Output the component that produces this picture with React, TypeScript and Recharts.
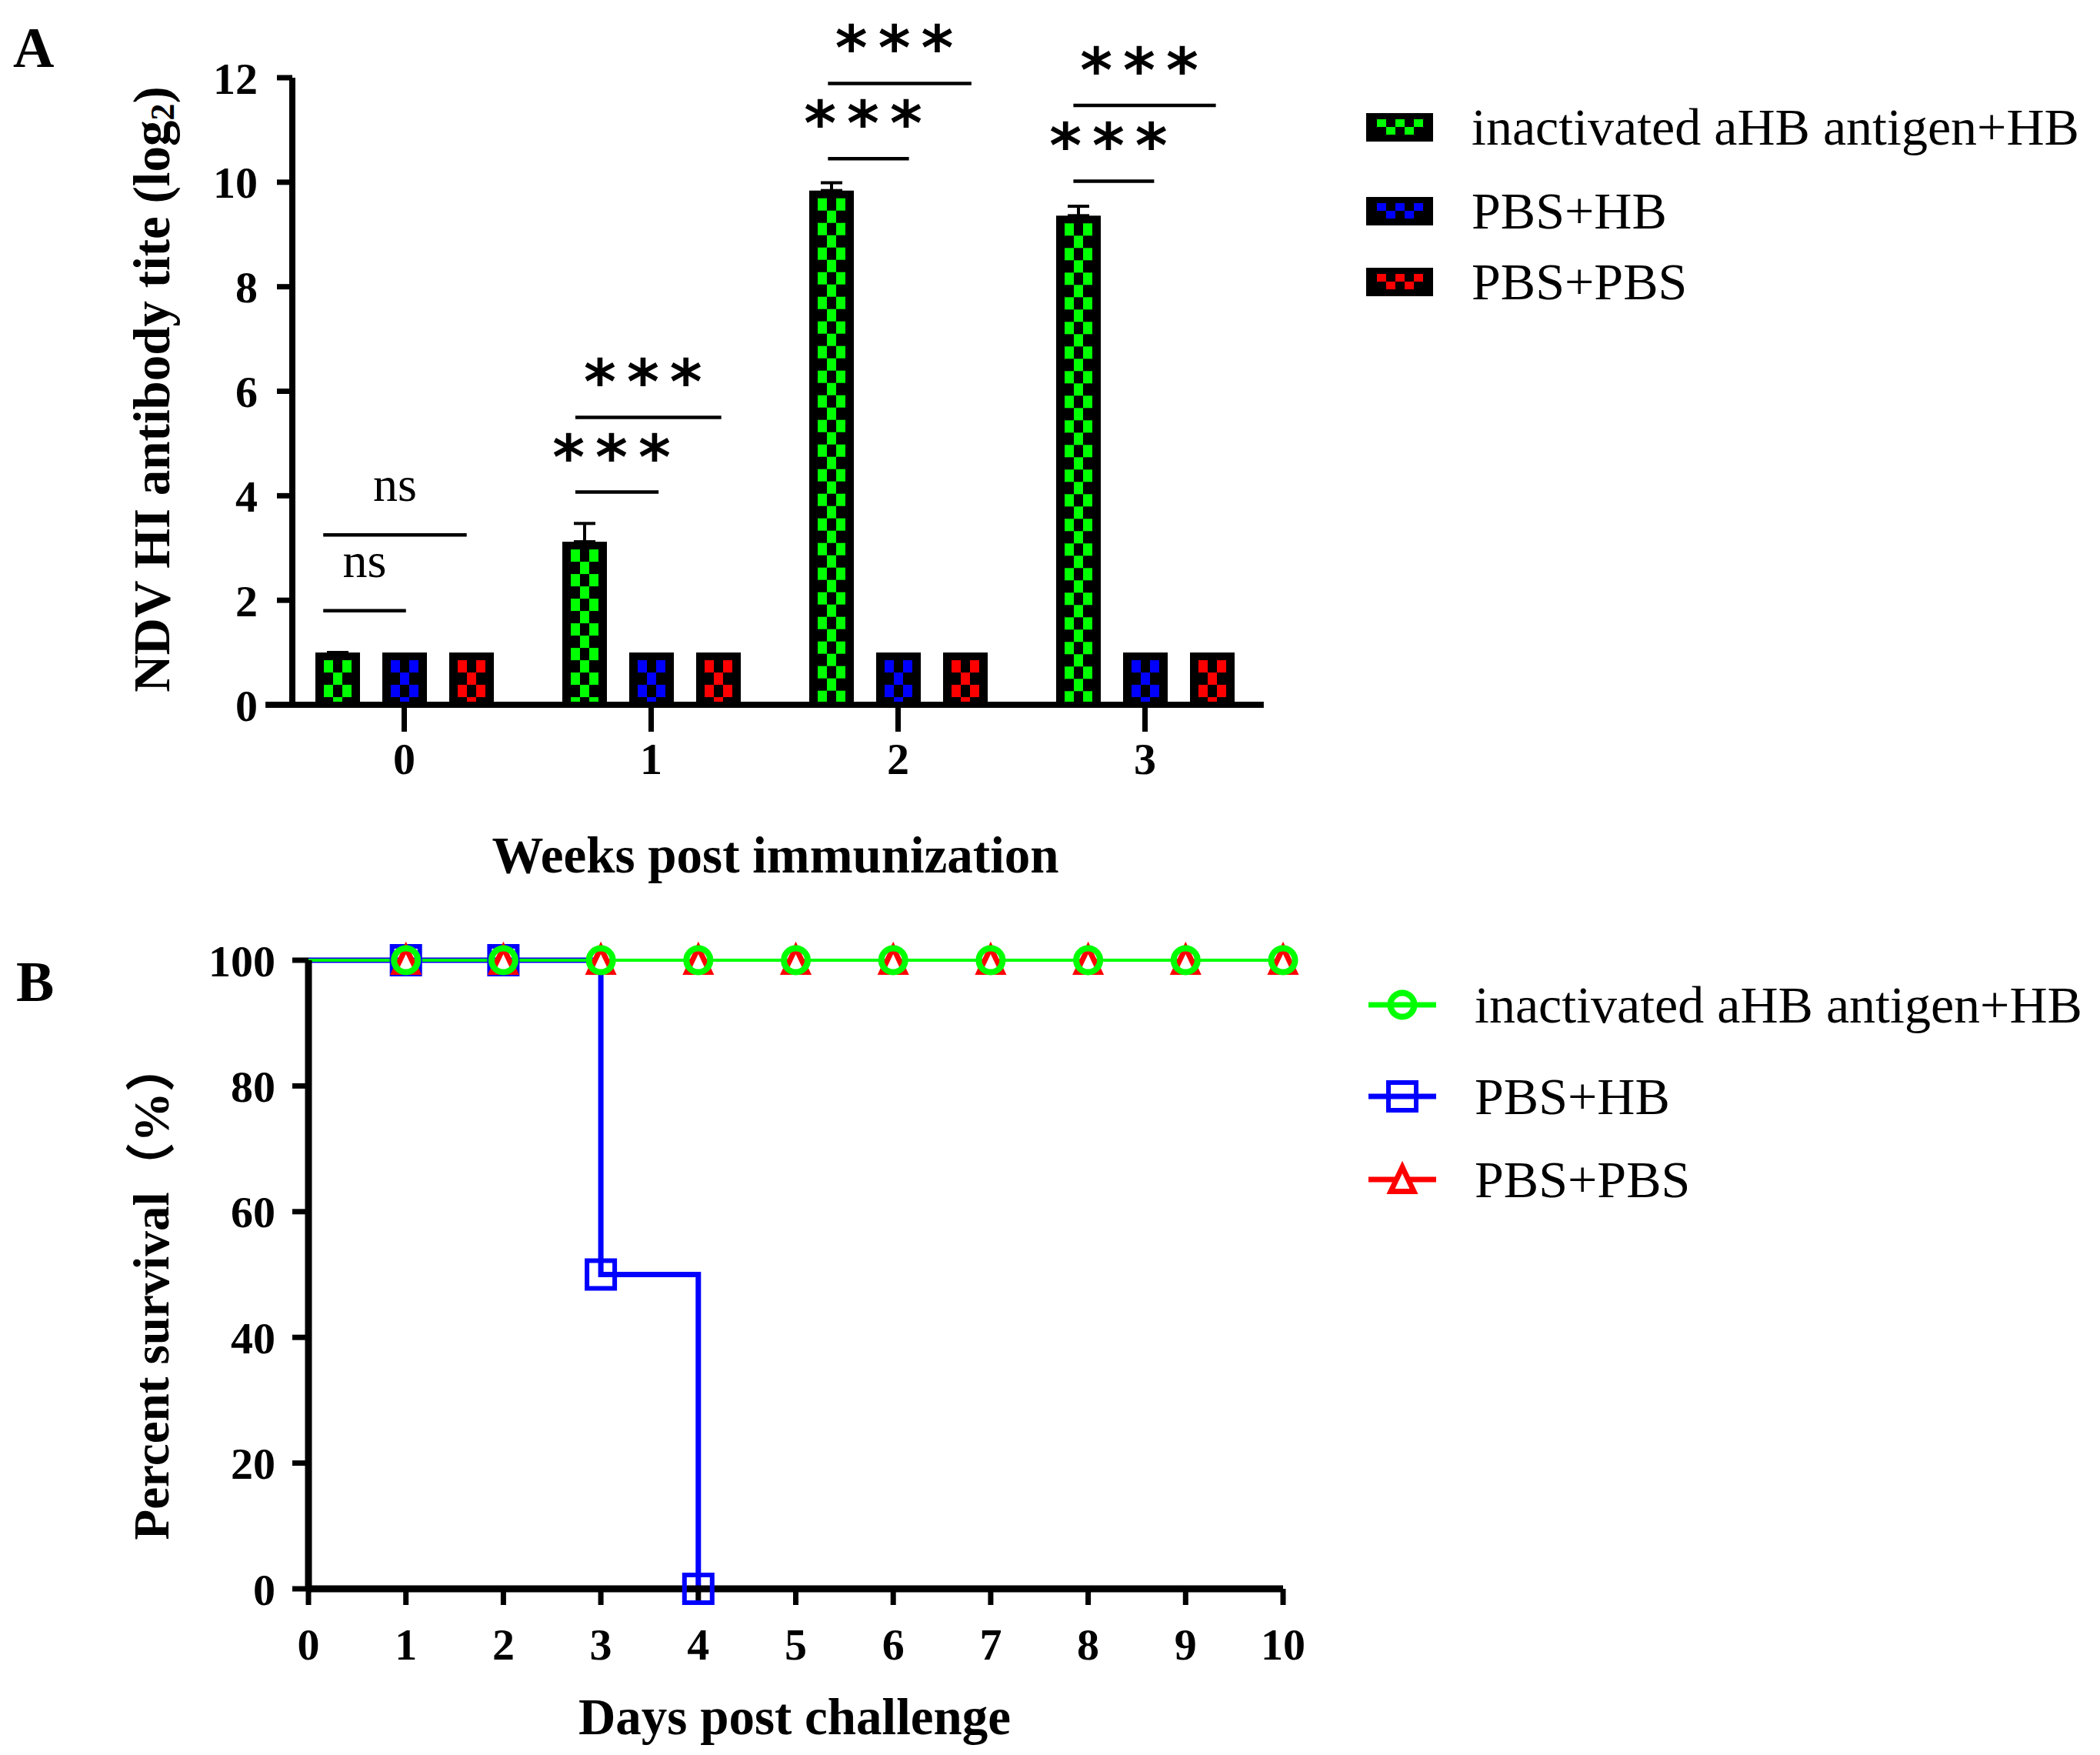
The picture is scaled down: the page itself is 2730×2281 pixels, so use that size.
import React from "react";
import {
  Bar,
  BarChart,
  ErrorBar,
  Legend,
  Line,
  LineChart,
  ReferenceLine,
  XAxis,
  YAxis,
} from "recharts";

// Panel A: NDV HI antibody titre by week; Panel B: survival after challenge.

const weeks = ["0", "1", "2", "3"];
const groupNames = ["inactivated aHB antigen+HB", "PBS+HB", "PBS+PBS"];
const groupColors = ["#00ff00", "#0000ff", "#ff0000"];

const vaccineTiter = [1.0, 3.12, 9.84, 9.36];
const vaccineErr = [0, 0.35, 0.15, 0.18];
const pbsHbTiter = [1, 1, 1, 1];
const pbsPbsTiter = [1, 1, 1, 1];
const titerTicks = [0, 2, 4, 6, 8, 10, 12];

// significance brackets: week, start/end offset from the week centre, height, text
const sigWeek = [0, 0, 1, 1, 2, 2, 3, 3];
const sigFrom = [-0.328, -0.328, -0.307, -0.307, -0.284, -0.284, -0.29, -0.29];
const sigTo = [0.007, 0.253, 0.03, 0.284, 0.044, 0.297, 0.037, 0.287];
const sigLevel = [1.8, 3.25, 4.07, 5.5, 10.45, 11.89, 10.02, 11.47];
const sigText = ["ns", "ns", "***", "***", "***", "***", "***", "***"];

const days = [0, 1, 2, 3, 4, 5, 6, 7, 8, 9, 10];
const vaccineSurvival = [100, 100, 100, 100, 100, 100, 100, 100, 100, 100, 100];
const pbsHbSurvival = [100, 100, 100, 50, 0, null, null, null, null, null, null];
const pbsPbsSurvival = [100, 100, 100, 100, 100, 100, 100, 100, 100, 100, 100];
const survivalTicks = [0, 20, 40, 60, 80, 100];

const SERIF = '"Liberation Serif", "Times New Roman", "Noto Sans CJK SC", serif';
const TICK = { fontSize: 58, fontWeight: 700, fontFamily: SERIF, fill: "#000" };

const titerRows = weeks.map((w, i) => ({
  week: w,
  pos: i,
  vaccine: vaccineTiter[i],
  vaccineErr: [0, vaccineErr[i]],
  pbsHb: pbsHbTiter[i],
  pbsPbs: pbsPbsTiter[i],
}));

const survivalRows = days.map((d, i) => ({
  day: d,
  vaccine: vaccineSurvival[i],
  pbsHb: pbsHbSurvival[i],
  pbsPbs: pbsPbsSurvival[i],
}));

function checkerCells(x: number, y: number, w: number, h: number, cols: number, ch: number, color: string) {
  const cw = w / cols;
  const rows = Math.ceil(h / ch);
  const cells = [];
  for (let r = 0; r < rows; r++) {
    for (let c = 0; c < cols; c++) {
      if ((r + c) % 2 !== 0) continue;
      const top = y + r * ch;
      cells.push(
        <rect key={`${r}-${c}`} x={x + c * cw} y={top} width={cw} height={Math.min(ch, y + h - top)} fill={color} />
      );
    }
  }
  return cells;
}

function CheckerBar(props: any) {
  const { x, y, width, height, fill } = props;
  if (!height || height <= 0) return <g />;
  const inX = x + 11;
  const inW = width - 22;
  const inY = y + 10;
  const inH = height - 10;
  return (
    <g>
      <rect x={x} y={y} width={width} height={height} fill="#000" />
      {checkerCells(inX, inY, inW, inH, 3, 16, fill)}
    </g>
  );
}

function TitleA() {
  return (
    <g>
      <text x={17} y={87} fontSize={74} fontWeight={700} fontFamily={SERIF} fill="#000">
        A
      </text>
      <text
        x={197}
        y={506}
        transform="rotate(-90, 197, 506)"
        textAnchor="middle"
        dominantBaseline="central"
        fontSize={67}
        fontWeight={700}
        fontFamily={SERIF}
        fill="#000"
      >
        NDV HI antibody tite (log
        <tspan dy={14} fontSize={44}>2</tspan>
        <tspan dy={-14}>)</tspan>
      </text>
    </g>
  );
}

function XTitleA() {
  return (
    <text x={1008} y={1134} textAnchor="middle" fontSize={67} fontWeight={700} fontFamily={SERIF} fill="#000">
      Weeks post immunization
    </text>
  );
}

function TitleB() {
  return (
    <g>
      <text x={21} y={151} fontSize={74} fontWeight={700} fontFamily={SERIF} fill="#000">
        B
      </text>
      <text
        x={197}
        y={528}
        transform="rotate(-90, 197, 528)"
        textAnchor="middle"
        dominantBaseline="central"
        fontSize={65}
        fontWeight={700}
        fontFamily={SERIF}
        fill="#000"
      >
        Percent survival（%）
      </text>
    </g>
  );
}

function XTitleB() {
  return (
    <text x={1033} y={1104} textAnchor="middle" fontSize={67} fontWeight={700} fontFamily={SERIF} fill="#000">
      Days post challenge
    </text>
  );
}

function LegendA() {
  const rows = [37, 146, 238];
  return (
    <svg width={954} height={290} style={{ display: "block", overflow: "visible" }}>
      {groupNames.map((name, i) => (
        <g key={name}>
          <rect x={0} y={rows[i] - 18} width={87} height={37} fill="#000" />
          {checkerCells(14, rows[i] - 10, 60, 20, 5, 10, groupColors[i])}
          <text x={137} y={rows[i]} dominantBaseline="central" fontSize={68} fontFamily={SERIF} fill="#000">
            {name}
          </text>
        </g>
      ))}
    </svg>
  );
}

function Marker({ kind, cx, cy, color }: { kind: number; cx: number; cy: number; color: string }) {
  if (kind === 0) {
    return <circle cx={cx} cy={cy} r={15.5} fill="none" stroke={color} strokeWidth={8} />;
  }
  if (kind === 1) {
    return <rect x={cx - 18} y={cy - 18} width={36} height={36} fill="none" stroke={color} strokeWidth={6} />;
  }
  return (
    <polygon
      points={`${cx},${cy - 16} ${cx - 15},${cy + 15.5} ${cx + 15},${cy + 15.5}`}
      fill="#fff"
      stroke={color}
      strokeWidth={7}
    />
  );
}

function LegendB() {
  const rows = [36, 155, 263];
  return (
    <svg width={951} height={300} style={{ display: "block", overflow: "visible" }}>
      {groupNames.map((name, i) => (
        <g key={name}>
          <line x1={0} x2={88} y1={rows[i]} y2={rows[i]} stroke={groupColors[i]} strokeWidth={7} />
          <Marker kind={i} cx={44} cy={rows[i]} color={groupColors[i]} />
          <text x={138} y={rows[i]} dominantBaseline="central" fontSize={68} fontFamily={SERIF} fill="#000">
            {name}
          </text>
        </g>
      ))}
    </svg>
  );
}

function makeDot(kind: number, color: string) {
  return (p: any) => {
    const key = `m-${kind}-${p.index}`;
    if (p.value == null || p.cy == null || p.payload?.day === 0) return <g key={key} />;
    return (
      <g key={key}>
        <Marker kind={kind} cx={p.cx} cy={p.cy} color={color} />
      </g>
    );
  };
}

const axisLine = { stroke: "#000", strokeWidth: 8 };
const tickLine = { stroke: "#000", strokeWidth: 7 };

export default function App() {
  return (
    <div style={{ position: "absolute", left: 0, top: 0, width: 2730, height: 2281, background: "#fff" }}>
      <div style={{ position: "absolute", left: 0, top: 0 }}>
        <BarChart
          width={2730}
          height={1150}
          data={titerRows}
          margin={{ top: 101, right: 1087, left: 180, bottom: 4 }}
          barSize={58}
          barGap={29}
        >
          <XAxis
            dataKey="week"
            height={230}
            padding={{ left: -15, right: -6 }}
            axisLine={false}
            tickSize={35}
            tickMargin={14}
            tickLine={tickLine}
            tick={TICK}
            label={<XTitleA />}
          />
          <XAxis
            xAxisId="num"
            dataKey="pos"
            type="number"
            domain={[-0.5, 3.5]}
            allowDataOverflow
            padding={{ left: -15, right: -6 }}
            hide
          />
          <YAxis
            width={200}
            domain={[0, 12]}
            ticks={titerTicks}
            interval={0}
            axisLine={axisLine}
            tickSize={20}
            tickMargin={25}
            tickLine={tickLine}
            tick={TICK}
            label={<TitleA />}
          />
          <Bar dataKey="vaccine" fill={groupColors[0]} shape={CheckerBar} isAnimationActive={false}>
            <ErrorBar dataKey="vaccineErr" width={14} strokeWidth={4} stroke="#000" direction="y" isAnimationActive={false} />
          </Bar>
          <Bar dataKey="pbsHb" fill={groupColors[1]} shape={CheckerBar} isAnimationActive={false} />
          <Bar dataKey="pbsPbs" fill={groupColors[2]} shape={CheckerBar} isAnimationActive={false} />
          <ReferenceLine
            xAxisId="num"
            segment={[
              { x: -0.562, y: 0 },
              { x: 3.481, y: 0 },
            ]}
            ifOverflow="visible"
            stroke="#000"
            strokeWidth={8}
          />
          {sigText.map((t, i) => (
            <ReferenceLine
              key={`sig-${i}`}
              xAxisId="num"
              segment={[
                { x: sigWeek[i] + sigFrom[i], y: sigLevel[i] },
                { x: sigWeek[i] + sigTo[i], y: sigLevel[i] },
              ]}
              ifOverflow="visible"
              stroke="#000"
              strokeWidth={4.5}
              label={
                t === "ns"
                  ? { value: t, position: "top", offset: 44, fontSize: 64, fontFamily: SERIF, fill: "#000" }
                  : {
                      value: t,
                      position: "top",
                      offset: 18,
                      fontSize: 80,
                      fontWeight: 700,
                      fontFamily: '"DejaVu Sans", sans-serif',
                      letterSpacing: 14,
                      fill: "#000",
                    }
              }
            />
          ))}
          <Legend
            layout="horizontal"
            verticalAlign="middle"
            align="center"
            wrapperStyle={{ left: 1776, top: 128, width: 954, height: 290 }}
            content={() => <LegendA />}
          />
        </BarChart>
      </div>
      <div style={{ position: "absolute", left: 0, top: 1150 }}>
        <LineChart
          width={2730}
          height={1131}
          data={survivalRows}
          margin={{ top: 98, right: 1062, left: 201, bottom: 6 }}
        >
          <XAxis
            dataKey="day"
            type="number"
            domain={[0, 10]}
            ticks={days}
            interval={0}
            height={210}
            axisLine={{ stroke: "#000", strokeWidth: 9 }}
            tickSize={21}
            tickMargin={30}
            tickLine={tickLine}
            tick={TICK}
            label={<XTitleB />}
          />
          <YAxis
            width={200}
            domain={[0, 100]}
            ticks={survivalTicks}
            interval={0}
            axisLine={{ stroke: "#000", strokeWidth: 9 }}
            tickSize={21}
            tickMargin={22}
            tickLine={tickLine}
            tick={TICK}
            label={<TitleB />}
          />
          <Line
            dataKey="pbsHb"
            type="stepAfter"
            stroke={groupColors[1]}
            strokeWidth={7}
            dot={makeDot(1, groupColors[1])}
            activeDot={false}
            isAnimationActive={false}
          />
          <Line
            dataKey="pbsPbs"
            type="linear"
            stroke={groupColors[2]}
            strokeWidth={4}
            dot={makeDot(2, groupColors[2])}
            activeDot={false}
            isAnimationActive={false}
          />
          <Line
            dataKey="vaccine"
            type="linear"
            stroke={groupColors[0]}
            strokeWidth={4}
            dot={makeDot(0, groupColors[0])}
            activeDot={false}
            isAnimationActive={false}
          />
          <Legend
            layout="horizontal"
            verticalAlign="middle"
            align="center"
            wrapperStyle={{ left: 1779, top: 120, width: 951, height: 300 }}
            content={() => <LegendB />}
          />
        </LineChart>
      </div>
    </div>
  );
}
